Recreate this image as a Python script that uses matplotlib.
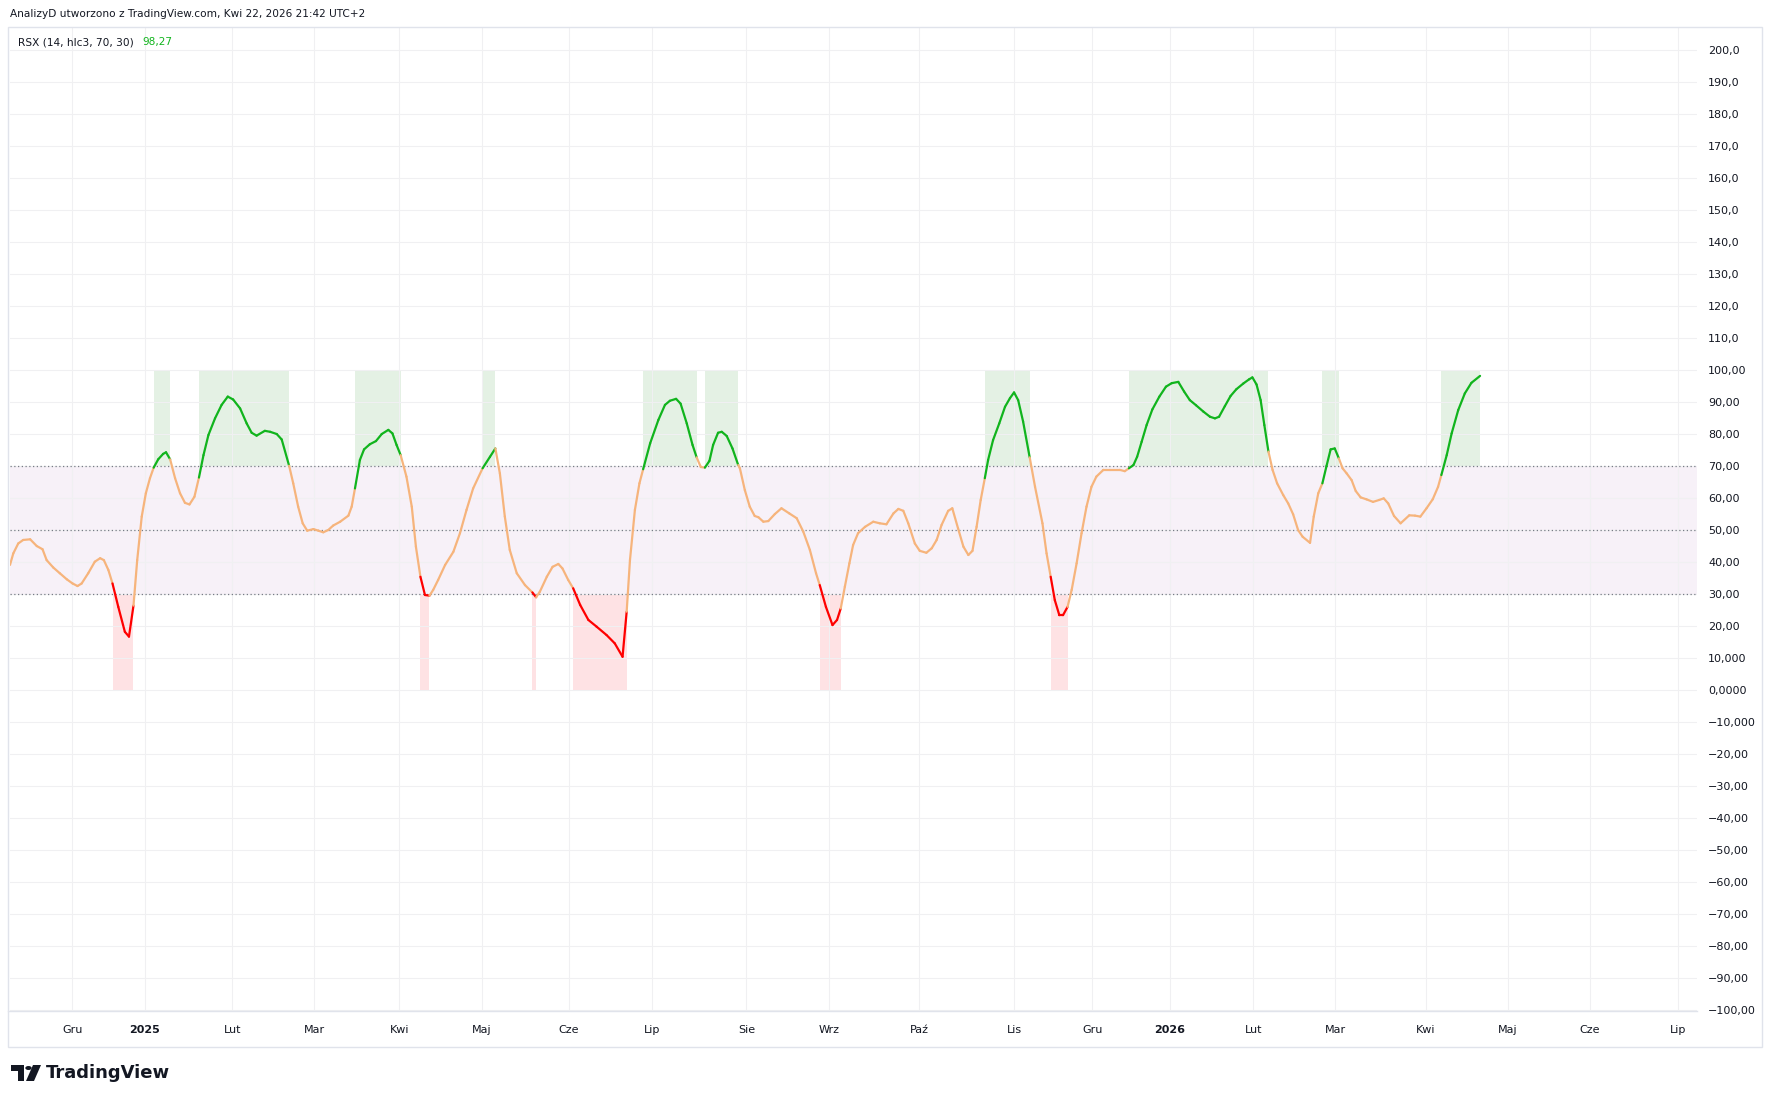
import numpy as np
import matplotlib.pyplot as plt
from matplotlib.collections import LineCollection
from matplotlib.patches import Rectangle, Polygon, Circle
from matplotlib.lines import Line2D

# RSX values (x = bar index, trading days)
bars = [0.0, 0.8, 2.0, 3.2, 4.9, 6.5, 7.9, 8.9, 10.5, 12.1, 13.8, 15.2, 16.4, 17.4, 19.0, 20.6, 21.9, 22.8,
        23.9, 24.9, 26.3, 27.9, 28.9, 30.0, 30.9, 32.0, 33.0, 34.0, 34.9, 36.0, 37.2, 37.9, 38.9, 40.1, 41.3,
        42.5, 43.6, 44.8, 45.9, 47.0, 48.2, 49.8, 51.4, 52.9, 54.2, 55.9, 57.5, 58.7, 59.9, 61.9, 63.2, 64.8,
        66.0, 67.8, 68.8, 70.0, 71.1, 72.2, 73.7, 74.9, 76.1, 77.3, 78.5, 80.2, 82.2, 83.0, 83.8, 85.0, 86.0,
        87.4, 88.9, 90.3, 91.9, 92.9, 93.9, 94.9, 96.3, 97.6, 98.6, 99.7, 100.8, 101.9, 102.8, 104.0, 105.7,
        107.7, 109.3, 110.9, 112.5, 114.8, 116.6, 117.9, 119.0, 120.2, 121.4, 123.1, 125.1, 126.9, 127.8,
        128.7, 130.4, 131.8, 133.2, 134.2, 135.6, 136.8, 138.5, 140.5, 142.5, 144.9, 146.9, 148.8, 149.8,
        150.6, 151.8, 152.9, 153.8, 155.5, 157.5, 159.1, 160.3, 161.8, 162.9, 164.4, 165.8, 166.8, 167.8,
        168.8, 169.9, 170.8, 172.0, 172.9, 174.1, 175.5, 176.9,
        177.3, 178.5, 179.7, 180.9, 181.8, 183.0, 184.2, 185.8, 187.4, 189.3, 191.1, 192.7, 194.3, 195.8,
        196.7, 198.2, 199.8, 200.9, 201.8, 202.8, 203.9, 204.8, 206.0, 207.7, 209.7, 211.3, 212.9, 214.6,
        215.8, 217.0, 218.2, 219.8, 221.0, 222.6, 223.9, 225.1, 226.3, 227.9, 228.9, 230.3, 231.6, 232.8,
        233.8, 234.8, 235.8, 236.8, 237.6, 238.8, 240.3, 241.7, 242.9, 243.9, 244.9, 246.1, 247.7, 249.0,
        250.8, 251.8, 252.8, 253.8, 254.9, 255.8, 256.9, 257.9, 259.1, 260.3, 261.5, 262.7, 263.9, 265.6,
        267.2, 269.6, 270.8, 271.8, 272.9, 273.8, 274.9, 276.1, 277.5, 279.2, 280.8, 282.2, 283.8, 285.2,
        286.6, 288.1, 289.9, 291.5, 292.7, 293.7, 295.1, 296.5, 297.9, 299.6, 301.0, 301.8, 302.8, 303.8,
        304.7, 305.7, 306.7, 307.8, 309.3, 310.5, 311.7, 312.9, 314.0, 315.8, 316.7, 317.8, 318.8, 319.8,
        320.8, 321.8, 322.8, 323.7, 324.7, 325.9, 326.9, 328.1, 329.5, 331.1, 332.6, 333.7, 334.8, 336.2,
        337.8, 339.9, 341.3, 342.6, 344.1, 345.6, 346.9, 347.7, 349.0, 350.2, 351.8, 353.4, 355.0, 357.1]

rsx = [39.2, 42.8, 45.9, 47.0, 47.2, 45.1, 44.1, 40.7, 38.4, 36.6, 34.7, 33.4, 32.6, 33.4, 36.6, 40.2, 41.3, 40.7,
       37.6, 33.4, 26.1, 18.3, 16.8, 26.5, 40.7, 54.3, 61.6, 66.3, 69.6, 72.2, 73.9, 74.4, 72.2, 66.3, 61.6,
       58.6, 58.1, 60.5, 66.5, 73.5, 79.8, 85.0, 89.2, 91.8, 90.9, 88.1, 83.4, 80.5, 79.6, 81.1, 80.8, 80.1,
       78.4, 70.2, 64.7, 57.4, 52.2, 49.9, 50.4, 49.9, 49.4, 50.1, 51.5, 52.7, 54.6, 57.4, 63.1, 72.0, 75.3,
       76.9, 77.9, 80.1, 81.4, 80.3, 76.7, 73.5, 66.8, 57.4, 44.9, 35.5, 29.8, 29.6, 31.4, 34.5, 39.2,
       43.3, 49.1, 56.4, 63.1, 69.4, 73.0, 75.6, 67.8, 54.3, 43.9, 36.6, 32.9, 30.6, 29.1,
       30.8, 35.5, 38.6, 39.5, 38.1, 34.5, 31.9, 26.7, 22.0, 19.9, 17.3, 14.7, 10.5, 24.6,
       40.7, 56.4, 64.7, 69.1, 77.2, 84.5, 89.2, 90.5, 91.1, 89.6, 83.4, 76.7, 72.8, 69.8,
       69.6, 71.7, 76.7, 80.5, 80.8, 79.5, 75.6, 70.4,
       69.4, 62.6, 57.4, 54.5, 54.1, 52.7, 52.9, 55.1, 56.9, 55.3, 53.8, 49.6, 43.9, 36.6,
       32.9, 26.1, 20.4, 22.0, 25.6, 32.4, 39.7, 45.4, 49.1, 51.1, 52.7, 52.2, 51.9, 55.3,
       56.7, 56.1, 52.2, 45.9, 43.6, 43.0, 44.4, 47.0, 51.7, 56.1, 56.9, 50.6, 44.9, 42.3,
       43.6, 51.1, 59.5, 66.3, 72.0, 78.2, 83.4, 88.6, 91.3, 93.1, 90.7, 84.0, 72.8, 63.6,
       52.2, 42.8, 35.5, 28.2, 23.5, 23.5, 26.1, 31.4, 39.7, 49.1, 57.4, 63.6, 66.8, 68.9,
       68.9, 68.9, 68.5, 69.4, 70.4, 73.0, 77.7, 82.9, 87.8, 91.8, 94.9, 96.0, 96.4, 93.4,
       90.7, 89.1, 87.1, 85.5, 85.0, 85.5, 88.8, 92.0, 94.1, 95.9, 97.2, 97.8, 95.6, 90.7,
       82.9, 74.6, 68.9, 64.7, 61.0, 58.4, 55.0, 50.1, 48.0, 46.1, 54.3, 61.6, 64.7, 70.1,
       75.3, 75.6, 72.5, 69.4, 67.8, 65.7, 62.3, 60.3, 59.7, 58.9, 59.5, 60.0, 58.4, 54.5,
       52.2, 54.7, 54.6, 54.3, 56.9, 59.7, 63.6, 67.3, 73.5, 80.3, 87.6, 92.8, 96.1, 98.27]

# month boundaries (bar index) and their labels
month_pos = [15.1, 32.7, 54.0, 73.9, 94.6, 114.6, 135.8, 156.0, 178.9, 199.0, 220.9, 243.9,
             262.9, 281.8, 302.0, 321.9, 344.0, 363.9, 383.8, 405.1]
month_labels = ["Gru", "2025", "Lut", "Mar", "Kwi", "Maj", "Cze", "Lip", "Sie", "Wrz", "Paź", "Lis",
                "Gru", "2026", "Lut", "Mar", "Kwi", "Maj", "Cze", "Lip"]

y_ticks = list(range(200, -101, -10))
y_labels = ["200,0", "190,0", "180,0", "170,0", "160,0", "150,0", "140,0", "130,0", "120,0", "110,0",
            "100,00", "90,00", "80,00", "70,00", "60,00", "50,00", "40,00", "30,00", "20,00", "10,000",
            "0,0000", "−10,000", "−20,00", "−30,00", "−40,00", "−50,00", "−60,00", "−70,00", "−80,00",
            "−90,00", "−100,00"]

upper, middle, lower = 70, 50, 30
last_value = "98,27"

TEXT = "#131722"
GRID = "#f0f0f2"
FRAME = "#e0e3eb"
ORANGE = "#f6b47c"
GREEN = "#11b41d"
RED = "#ff0000"

W, H = 1770, 1103
fig = plt.figure(figsize=(W / 100, H / 100), dpi=100)
fig.patch.set_facecolor("white")
ax = fig.add_axes([10 / W, 1 - 1011 / H, 1687 / W, 984 / H])
ax.set_xlim(0, 409.8)
ax.set_ylim(-100.2, 207.3)
for s in ax.spines.values():
    s.set_visible(False)

# grid
for yv in y_ticks:
    ax.axhline(yv, color=GRID, lw=0.8, zorder=1)
for xv in month_pos:
    ax.axvline(xv, color=GRID, lw=0.8, zorder=1)

# band between 30 and 70
ax.axhspan(lower, upper, color="#f7f1f8", lw=0, zorder=0.5)

x = np.array(bars)
v = np.array(rsx)
kind = np.where(v[1:] > upper, "g", np.where(v[1:] < lower, "r", "o"))

# shaded zones follow the coloured runs of the line
i = 0
while i < len(kind):
    j = i
    while j + 1 < len(kind) and kind[j + 1] == kind[i]:
        j += 1
    if kind[i] == "g":
        ax.fill_between([x[i], x[j + 1]], upper, 100, color="#e4f1e4", lw=0, zorder=0.7)
    elif kind[i] == "r":
        ax.fill_between([x[i], x[j + 1]], 0, lower, color="#fee2e4", lw=0, zorder=0.7)
    i = j + 1

for lvl in (upper, middle, lower):
    ax.axhline(lvl, color="#787b86", lw=0.9, ls=(0, (1, 2)), zorder=2)

segs = [[(x[k], v[k]), (x[k + 1], v[k + 1])] for k in range(len(x) - 1)]
cols = [{"g": GREEN, "r": RED, "o": ORANGE}[c] for c in kind]
ax.add_collection(LineCollection(segs, colors=cols, linewidths=1.6, capstyle="round", zorder=4))

# axes labels
ax.yaxis.tick_right()
ax.set_yticks(y_ticks, y_labels)
ax.set_xticks(month_pos, month_labels)
ax.tick_params(axis="y", length=0, pad=8, labelsize=8, labelcolor=TEXT)
ax.tick_params(axis="x", length=0, pad=10, labelsize=8, labelcolor=TEXT)
for lbl in ax.get_xticklabels():
    if lbl.get_text() in ("2025", "2026"):
        lbl.set_fontweight("bold")

# frame around chart + time axis separator
fig.add_artist(Rectangle((8 / W, 1 - 1047 / H), 1754 / W, 1020 / H, transform=fig.transFigure,
                         fill=False, edgecolor=FRAME, lw=1))
fig.add_artist(Line2D([8 / W, 1697 / W], [1 - 1011 / H] * 2, transform=fig.transFigure, color=FRAME, lw=1))

# header and legend
fig.text(10 / W, 1 - 14 / H, "AnalizyD utworzono z TradingView.com, Kwi 22, 2026 21:42 UTC+2",
         fontsize=7.6, color=TEXT, va="center")
fig.text(18 / W, 1 - 42.5 / H, "RSX (14, hlc3, 70, 30)", fontsize=7.6, color=TEXT, va="center")
fig.text(142 / W, 1 - 42.5 / H, last_value, fontsize=7.6, color=GREEN, va="center")

# TradingView logo
t = fig.transFigure
def P(px, py):
    return (px / W, 1 - py / H)
fig.add_artist(Polygon([P(11, 1065), P(24, 1065), P(24, 1081), P(18, 1081), P(18, 1071), P(11, 1071)],
                       closed=True, transform=t, color=TEXT, lw=0))
fig.add_artist(Circle(P(28.5, 1068), 3.2 / W, transform=t, color=TEXT, lw=0))
fig.add_artist(Polygon([P(33, 1065), P(41, 1065), P(34, 1081), P(26, 1081)], closed=True,
                       transform=t, color=TEXT, lw=0))
fig.text(46 / W, 1 - 1073 / H, "TradingView", fontsize=13, fontweight="bold", color=TEXT, va="center")

fig.savefig("out.png", dpi=100)
